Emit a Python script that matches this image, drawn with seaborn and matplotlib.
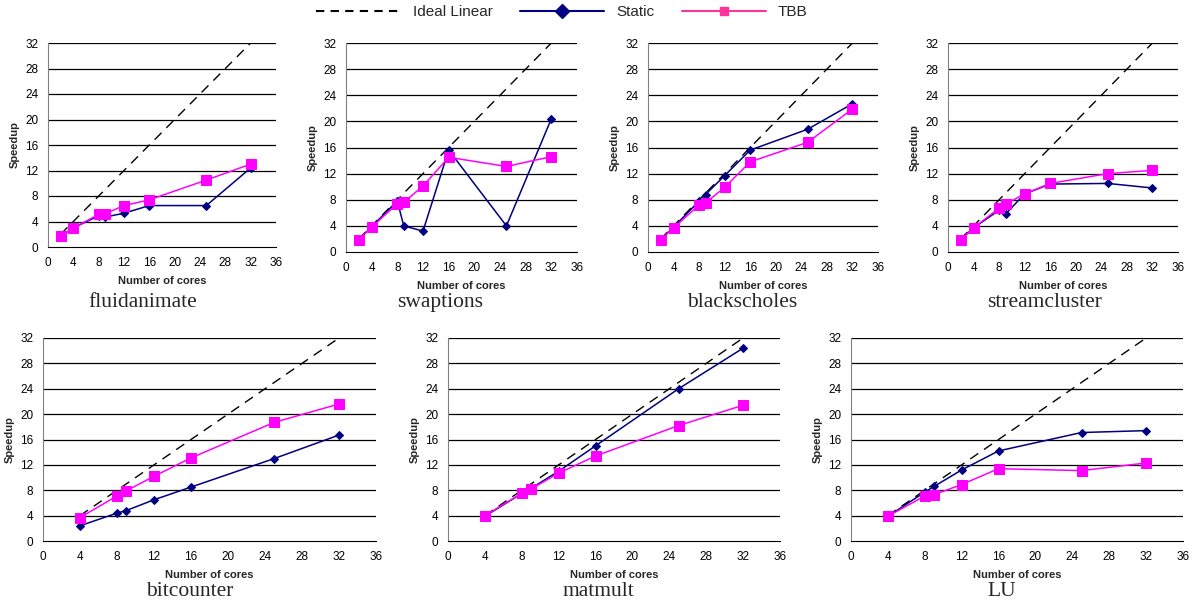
import numpy as np
import pandas as pd
import matplotlib
matplotlib.use("Agg")
import matplotlib.pyplot as plt
from matplotlib.lines import Line2D
import seaborn as sns

# core counts used in the runs
cores_top = [2, 4, 8, 9, 12, 16, 25, 32]
cores_bottom = [4, 8, 9, 12, 16, 25, 32]

# speedups
fluid_static = [1.7, 3.0, 4.9, 4.7, 5.3, 6.5, 6.5, 12.4]
fluid_tbb = [1.7, 3.0, 5.1, 5.2, 6.5, 7.4, 10.5, 13.0]
swap_static = [1.9, 3.9, 7.8, 4.0, 3.2, 15.6, 4.0, 20.4]
swap_tbb = [1.9, 3.8, 7.4, 7.6, 10.1, 14.5, 13.1, 14.6]
black_static = [1.9, 3.8, 7.8, 8.8, 11.7, 15.6, 18.8, 22.7]
black_tbb = [1.9, 3.7, 7.2, 7.5, 9.9, 13.8, 16.8, 21.9]
stream_static = [1.9, 3.7, 6.4, 5.8, 8.9, 10.4, 10.5, 9.8]
stream_tbb = [1.9, 3.7, 6.7, 7.3, 8.9, 10.5, 12.0, 12.5]
bitc_static = [2.4, 4.4, 4.8, 6.5, 8.5, 13.0, 16.7]
bitc_tbb = [3.7, 7.1, 7.9, 10.2, 13.1, 18.7, 21.6]
matm_static = [3.9, 7.5, 8.3, 11.0, 15.0, 24.0, 30.4]
matm_tbb = [4.0, 7.5, 8.2, 10.7, 13.4, 18.2, 21.4]
lu_static = [3.9, 7.7, 8.6, 11.2, 14.2, 17.1, 17.4]
lu_tbb = [3.9, 7.1, 7.3, 8.9, 11.4, 11.1, 12.3]

benchmarks = [
    ("fluidanimate", cores_top, fluid_static, fluid_tbb),
    ("swaptions", cores_top, swap_static, swap_tbb),
    ("blackscholes", cores_top, black_static, black_tbb),
    ("streamcluster", cores_top, stream_static, stream_tbb),
    ("bitcounter", cores_bottom, bitc_static, bitc_tbb),
    ("matmult", cores_bottom, matm_static, matm_tbb),
    ("LU", cores_bottom, lu_static, lu_tbb),
]

# axes boxes in pixels: left, right, top, bottom
boxes = [
    (48, 276, 43, 247),
    (346, 577, 43, 252),
    (648, 878, 43, 252),
    (948, 1178, 43, 252),
    (43, 376, 338, 541),
    (448, 780, 338, 541),
    (851, 1183, 338, 541),
]
title_x = [143, 440, 742, 1045, 190, 598, 1002]
title_y = [302, 302, 302, 302, 591, 591, 591]

W, H = 1196, 603
STATIC = "#000080"
TBB = "#FF00FF"

sns.set_style("white")
plt.rcParams["font.family"] = ["Liberation Sans", "DejaVu Sans"]

fig = plt.figure(figsize=(W / 100, H / 100), dpi=100)

for (name, cores, st, tb), (l, r, t, b), tx, ty in zip(benchmarks, boxes, title_x, title_y):
    ax = fig.add_axes([l / W, 1 - b / H, (r - l) / W, (b - t) / H])
    df = pd.DataFrame({"cores": cores, "ideal": cores, "static": st, "tbb": tb})
    for yy in range(4, 33, 4):
        ax.axhline(yy, color="black", lw=0.9, zorder=0)
    sns.lineplot(data=df, x="cores", y="ideal", ax=ax, color="black",
                 lw=1.0, linestyle=(0, (7, 5)))
    sns.lineplot(data=df, x="cores", y="static", ax=ax, color=STATIC, lw=1.1,
                 marker="D", markersize=4.5, markeredgecolor=STATIC)
    sns.lineplot(data=df, x="cores", y="tbb", ax=ax, color=TBB, lw=1.1,
                 marker="s", markersize=7, markeredgecolor=TBB)
    ax.set_xlim(0, 36)
    ax.set_ylim(0, 32)
    ax.set_xticks(range(0, 37, 4))
    ax.set_yticks(range(0, 33, 4))
    ax.tick_params(axis="both", labelsize=8.5, length=4, width=0.8,
                   direction="out", pad=3, colors="black")
    ax.tick_params(axis="y", color="#808080")
    for s in ["top", "right"]:
        ax.spines[s].set_visible(False)
    ax.spines["left"].set_color("#808080")
    ax.spines["bottom"].set_color("black")
    ax.set_xlabel("Number of cores", fontsize=8, fontweight="bold", labelpad=5)
    ax.set_ylabel("Speedup", fontsize=8, fontweight="bold", labelpad=4)
    fig.text(tx / W, 1 - ty / H, name, family="Liberation Serif",
             fontsize=15.5, ha="center", va="center")

handles = [
    Line2D([], [], color="black", lw=1.5, linestyle=(0, (4, 3))),
    Line2D([], [], color=STATIC, lw=1.5, marker="D", markersize=7),
    Line2D([], [], color="#FF3399", lw=1.5, marker="s", markersize=6),
]
fig.legend(handles, ["Ideal Linear", "Static", "TBB"], loc="center",
           bbox_to_anchor=(562 / W, 1 - 12 / H), ncol=3, frameon=False,
           fontsize=11, handlelength=5.5, columnspacing=1.8, handletextpad=0.8)

fig.savefig("out.png", dpi=100)
